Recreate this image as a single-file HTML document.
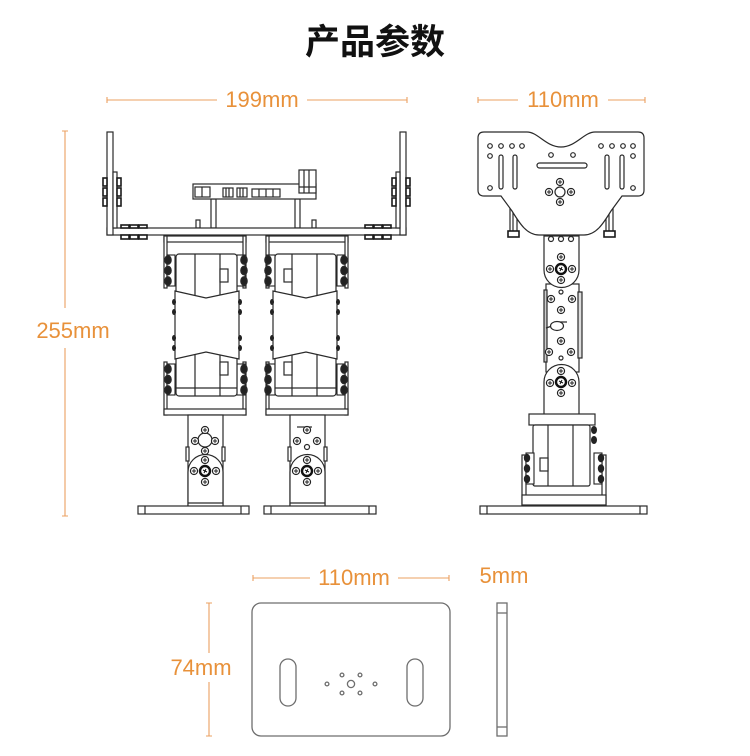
<!DOCTYPE html>
<html><head><meta charset="utf-8">
<style>
html,body{margin:0;padding:0;background:#fff;}
svg{display:block;}
.t{font-family:"Liberation Sans","Noto Sans CJK SC",sans-serif;fill:#E8913A;font-size:22px;text-anchor:middle;}
</style></head>
<body>
<svg width="750" height="756" viewBox="0 0 750 756" xmlns="http://www.w3.org/2000/svg">
<defs>
<g id="sc"><circle r="3.6" fill="#fff" stroke="#222" stroke-width="1.1"/><path d="M-2.2,0H2.2M0,-2.2V2.2" stroke="#222" stroke-width="1"/></g>
<g id="hn"><circle r="5" fill="#fff" stroke="#111" stroke-width="2.4"/><path d="M-2,-1L2,1M-1,2L1,-2" stroke="#111" stroke-width="1"/></g>
<g id="stk"><rect x="-4" y="0" width="8" height="31" fill="#fff" stroke="#222" stroke-width="1.1"/><ellipse cx="-3" cy="5" rx="3.2" ry="4.3" fill="#222"/><ellipse cx="-3" cy="15.5" rx="3.2" ry="4.3" fill="#222"/><ellipse cx="-3" cy="26" rx="3.2" ry="4.3" fill="#222"/></g>
</defs>

<!-- Title -->
<text x="375" y="54" font-family="'Noto Sans CJK SC','WenQuanYi Zen Hei',sans-serif" font-size="35" font-weight="bold" fill="#111" text-anchor="middle">产品参数</text>

<!-- Dimension lines -->
<g stroke="#EBA060" stroke-width="1.1" fill="none">
<path d="M107,100H217M307,100H407M107,97V103M407,97V103"/>
<path d="M478,100H518M608,100H645M478,97V103M645,97V103"/>
<path d="M65,131V308M65,348V516M62,131H68M62,516H68"/>
<path d="M253,578H310M398,578H449M253,575V581M449,575V581"/>
<path d="M209,603V653M209,682V736M206,603H212M206,736H212"/>
<path d="M343,667H359M343,664V670M359,664V670"/>
</g>
<text class="t" x="262" y="107">199mm</text>
<text class="t" x="563" y="107">110mm</text>
<text class="t" x="73" y="338">255mm</text>
<text class="t" x="354" y="585">110mm</text>
<text class="t" x="504" y="583">5mm</text>
<text class="t" x="201" y="675">74mm</text>
<text class="t" x="353" y="650">10mm</text>
<text class="t" x="352" y="727">70mm</text>

<!-- ================= FRONT VIEW ================= -->
<g stroke="#2a2a2a" stroke-width="1.2" fill="#fff">
<rect x="211" y="199" width="5" height="29"/>
<rect x="295" y="199" width="5" height="29"/>
<rect x="196" y="220" width="4" height="8"/>
<rect x="312" y="220" width="4" height="8"/>
<rect x="193" y="184" width="123" height="15"/>
<rect x="195" y="187" width="15" height="10"/><line x1="202" y1="187" x2="202" y2="197"/>
<rect x="223" y="188" width="10" height="9"/><line x1="226" y1="188" x2="226" y2="197"/><line x1="229" y1="188" x2="229" y2="197"/>
<rect x="237" y="188" width="10" height="9"/><line x1="240" y1="188" x2="240" y2="197"/><line x1="243" y1="188" x2="243" y2="197"/>
<rect x="252" y="189" width="28" height="8"/><line x1="259" y1="189" x2="259" y2="197"/><line x1="266" y1="189" x2="266" y2="197"/><line x1="273" y1="189" x2="273" y2="197"/>
<rect x="299" y="170" width="17" height="23"/><line x1="304" y1="170" x2="304" y2="193"/><line x1="309" y1="170" x2="309" y2="193"/><line x1="299" y1="187" x2="316" y2="187"/>
<rect x="107" y="228" width="299" height="7"/>
<rect x="107" y="132" width="6" height="103"/>
<rect x="400" y="132" width="6" height="103"/>
<rect x="113" y="172" width="4" height="56"/>
<rect x="396" y="172" width="4" height="56"/>
</g>
<g fill="#fff" stroke="#1a1a1a" stroke-width="1.6">
<rect x="103" y="178" width="4" height="8"/><rect x="103" y="188" width="4" height="8"/><rect x="103" y="198" width="4" height="8"/>
<rect x="117" y="178" width="4" height="8"/><rect x="117" y="188" width="4" height="8"/><rect x="117" y="198" width="4" height="8"/>
<rect x="406" y="178" width="4" height="8"/><rect x="406" y="188" width="4" height="8"/><rect x="406" y="198" width="4" height="8"/>
<rect x="392" y="178" width="4" height="8"/><rect x="392" y="188" width="4" height="8"/><rect x="392" y="198" width="4" height="8"/>
<rect x="121" y="225" width="8" height="3"/><rect x="130" y="225" width="8" height="3"/><rect x="139" y="225" width="8" height="3"/>
<rect x="121" y="235" width="8" height="4"/><rect x="130" y="235" width="8" height="4"/><rect x="139" y="235" width="8" height="4"/>
<rect x="365" y="225" width="8" height="3"/><rect x="374" y="225" width="8" height="3"/><rect x="383" y="225" width="8" height="3"/>
<rect x="365" y="235" width="8" height="4"/><rect x="374" y="235" width="8" height="4"/><rect x="383" y="235" width="8" height="4"/>
</g>

<!-- Left leg (upper) -->
<g stroke="#2a2a2a" stroke-width="1.2" fill="#fff">
<rect x="164" y="236" width="82" height="6"/>
<rect x="164" y="236" width="3" height="52"/>
<rect x="243" y="236" width="3" height="52"/>
<rect x="164" y="362" width="3" height="53"/>
<rect x="243" y="362" width="3" height="53"/>
<rect x="164" y="409" width="82" height="6"/>
<use href="#stk" x="171" y="255"/>
<use href="#stk" x="241" y="255" transform="translate(482,0) scale(-1,1)"/>
<use href="#stk" x="171" y="364"/>
<use href="#stk" x="241" y="364" transform="translate(482,0) scale(-1,1)"/>
<rect x="176" y="254" width="61" height="142" rx="3"/>
<line x1="195" y1="254" x2="195" y2="396"/>
<line x1="220" y1="254" x2="220" y2="396"/>
<rect x="220" y="269" width="8" height="13"/>
<rect x="220" y="362" width="8" height="13"/>
<line x1="176" y1="388" x2="237" y2="388"/>
<path d="M175,291 L206,298 L239,291 L239,359 L206,352 L175,359 Z"/>
<g fill="#222" stroke="none">
<ellipse cx="174" cy="302" rx="2" ry="3"/><ellipse cx="174" cy="312" rx="2" ry="3"/><ellipse cx="174" cy="338" rx="2" ry="3"/><ellipse cx="174" cy="348" rx="2" ry="3"/>
<ellipse cx="240" cy="302" rx="2" ry="3"/><ellipse cx="240" cy="312" rx="2" ry="3"/><ellipse cx="240" cy="338" rx="2" ry="3"/><ellipse cx="240" cy="348" rx="2" ry="3"/>
</g>
</g>
<!-- Right leg (mirror) -->
<g transform="translate(512,0) scale(-1,1)" stroke="#2a2a2a" stroke-width="1.2" fill="#fff">
<rect x="164" y="236" width="82" height="6"/>
<rect x="164" y="236" width="3" height="52"/>
<rect x="243" y="236" width="3" height="52"/>
<rect x="164" y="362" width="3" height="53"/>
<rect x="243" y="362" width="3" height="53"/>
<rect x="164" y="409" width="82" height="6"/>
<use href="#stk" x="171" y="255"/>
<use href="#stk" x="241" y="255" transform="translate(482,0) scale(-1,1)"/>
<use href="#stk" x="171" y="364"/>
<use href="#stk" x="241" y="364" transform="translate(482,0) scale(-1,1)"/>
<rect x="176" y="254" width="61" height="142" rx="3"/>
<line x1="195" y1="254" x2="195" y2="396"/>
<line x1="220" y1="254" x2="220" y2="396"/>
<rect x="220" y="269" width="8" height="13"/>
<rect x="220" y="362" width="8" height="13"/>
<line x1="176" y1="388" x2="237" y2="388"/>
<path d="M175,291 L206,298 L239,291 L239,359 L206,352 L175,359 Z"/>
<g fill="#222" stroke="none">
<ellipse cx="174" cy="302" rx="2" ry="3"/><ellipse cx="174" cy="312" rx="2" ry="3"/><ellipse cx="174" cy="338" rx="2" ry="3"/><ellipse cx="174" cy="348" rx="2" ry="3"/>
<ellipse cx="240" cy="302" rx="2" ry="3"/><ellipse cx="240" cy="312" rx="2" ry="3"/><ellipse cx="240" cy="338" rx="2" ry="3"/><ellipse cx="240" cy="348" rx="2" ry="3"/>
</g>
</g>

<!-- Lower legs -->
<g stroke="#2a2a2a" stroke-width="1.2" fill="#fff">
<rect x="188" y="415" width="35" height="91"/>
<rect x="186" y="447" width="3" height="14"/><rect x="222" y="447" width="3" height="14"/>
<path d="M188,506 L188,472 A17.5,17.5 0 0 1 223,472 L223,506"/>
<circle cx="205" cy="440" r="7"/>
<line x1="188" y1="503" x2="223" y2="503"/>
<rect x="290" y="415" width="35" height="91"/>
<rect x="288" y="447" width="3" height="14"/><rect x="324" y="447" width="3" height="14"/>
<path d="M290,506 L290,472 A17.5,17.5 0 0 1 325,472 L325,506"/>
<circle cx="307" cy="447" r="2.5"/>
<line x1="290" y1="503" x2="325" y2="503"/>
<line x1="297" y1="427" x2="312" y2="427"/>
<rect x="138" y="506" width="111" height="8"/><line x1="145" y1="506" x2="145" y2="514"/><line x1="241" y1="506" x2="241" y2="514"/>
<rect x="264" y="506" width="112" height="8"/><line x1="271" y1="506" x2="271" y2="514"/><line x1="369" y1="506" x2="369" y2="514"/>
</g>
<use href="#sc" x="205" y="430"/><use href="#sc" x="195" y="441"/><use href="#sc" x="215" y="441"/><use href="#sc" x="205" y="451"/>
<use href="#hn" x="205" y="471"/><use href="#sc" x="205" y="460"/><use href="#sc" x="194" y="471"/><use href="#sc" x="216" y="471"/><use href="#sc" x="205" y="482"/>
<use href="#sc" x="307" y="430"/><use href="#sc" x="297" y="441"/><use href="#sc" x="317" y="441"/>
<use href="#hn" x="307" y="471"/><use href="#sc" x="307" y="460"/><use href="#sc" x="296" y="471"/><use href="#sc" x="318" y="471"/><use href="#sc" x="307" y="482"/>

<!-- ================= SIDE VIEW ================= -->
<g stroke="#2a2a2a" stroke-width="1.2" fill="#fff">
<rect x="510" y="205" width="7" height="27"/><line x1="513" y1="205" x2="513" y2="232"/>
<rect x="606" y="205" width="7" height="27"/><line x1="609" y1="205" x2="609" y2="232"/>
<path d="M484,132 L527,132 C538,132 546,147 561,147 C576,147 584,132 595,132 L638,132 Q644,132 644,138 L644,190 Q644,196 638,196 L622,196 L611,211 C603,224 596,235 584,235 L539,235 C527,235 520,224 512,211 L501,196 L484,196 Q478,196 478,190 L478,138 Q478,132 484,132 Z"/>
<circle cx="490" cy="146" r="2.3"/><circle cx="501" cy="146" r="2.3"/><circle cx="512" cy="146" r="2.3"/><circle cx="522" cy="146" r="2.3"/>
<circle cx="601" cy="146" r="2.3"/><circle cx="612" cy="146" r="2.3"/><circle cx="623" cy="146" r="2.3"/><circle cx="633" cy="146" r="2.3"/>
<circle cx="490" cy="156" r="2.3"/><circle cx="633" cy="156" r="2.3"/>
<circle cx="490" cy="188" r="2.3"/><circle cx="633" cy="188" r="2.3"/>
<rect x="499" y="155" width="4" height="34" rx="2"/><rect x="513" y="155" width="4" height="34" rx="2"/>
<rect x="605" y="155" width="4" height="34" rx="2"/><rect x="620" y="155" width="4" height="34" rx="2"/>
<circle cx="551" cy="155" r="2.3"/><circle cx="573" cy="155" r="2.3"/>
<rect x="537" y="163" width="50" height="5" rx="2.5"/>
<circle cx="560" cy="192" r="5"/>
</g>
<use href="#sc" x="560" y="182"/><use href="#sc" x="549" y="192"/><use href="#sc" x="571" y="192"/><use href="#sc" x="560" y="202"/>
<g fill="#fff" stroke="#1a1a1a" stroke-width="1.6">
<rect x="508" y="231" width="11" height="6"/><rect x="604" y="231" width="11" height="6"/>
</g>

<g stroke="#2a2a2a" stroke-width="1.2" fill="#fff">
<rect x="546" y="284" width="33" height="88"/>
<rect x="578" y="292" width="4" height="66" fill="#ddd"/>
<rect x="544" y="290" width="3" height="72" fill="#ccc"/>
<path d="M546,328 L552,326 M558,322 L567,322"/>
<path d="M544,236 L544,270 A17.5,17.5 0 0 0 579,270 L579,236 Z"/>
<path d="M544,415 L544,382 A17.5,17.5 0 0 1 579,382 L579,415 Z"/>
<ellipse cx="557" cy="326" rx="6.5" ry="4.5"/>
<circle cx="561" cy="292" r="2"/><circle cx="561" cy="358" r="2"/>
<circle cx="551" cy="239" r="2.5"/><circle cx="561" cy="239" r="2.5"/><circle cx="571" cy="239" r="2.5"/>
<rect x="522" y="455" width="4" height="51"/><rect x="602" y="455" width="4" height="51"/>
<rect x="522" y="495" width="84" height="10"/>
<rect x="529" y="414" width="66" height="11"/>
<rect x="533" y="425" width="57" height="61" rx="2"/>
<line x1="548" y1="425" x2="548" y2="486"/><line x1="573" y1="425" x2="573" y2="486"/>
<rect x="540" y="458" width="8" height="13"/>
<rect x="480" y="506" width="167" height="8"/><line x1="487" y1="506" x2="487" y2="514"/><line x1="640" y1="506" x2="640" y2="514"/>
</g>
<use href="#stk" x="530" y="455" transform="translate(0,-2)"/>
<use href="#stk" x="598" y="455" transform="translate(1196,-2) scale(-1,1)"/>
<g fill="#222"><ellipse cx="594" cy="430" rx="3" ry="4"/><ellipse cx="594" cy="440" rx="3" ry="4"/></g>
<use href="#hn" x="561" y="269"/><use href="#sc" x="561" y="257"/><use href="#sc" x="550" y="269"/><use href="#sc" x="572" y="269"/><use href="#sc" x="561" y="280"/>
<use href="#sc" x="551" y="299"/><use href="#sc" x="572" y="299"/><use href="#sc" x="561" y="310"/>
<use href="#sc" x="561" y="341"/><use href="#sc" x="549" y="352"/><use href="#sc" x="571" y="352"/>
<use href="#hn" x="561" y="382"/><use href="#sc" x="561" y="371"/><use href="#sc" x="550" y="383"/><use href="#sc" x="572" y="383"/><use href="#sc" x="561" y="393"/>

<!-- ================= BASE PLATE ================= -->
<g stroke="#6e6e6e" stroke-width="1.3" fill="#fff">
<rect x="252" y="603" width="198" height="133" rx="9"/>
<rect x="280" y="659" width="16" height="47" rx="8"/>
<rect x="407" y="659" width="16" height="47" rx="8"/>
<circle cx="351" cy="684" r="3.6"/>
<circle cx="342" cy="675" r="1.9"/><circle cx="360" cy="675" r="1.9"/>
<circle cx="327" cy="684" r="1.9"/><circle cx="375" cy="684" r="1.9"/>
<circle cx="342" cy="693" r="1.9"/><circle cx="360" cy="693" r="1.9"/>
<rect x="497" y="603" width="10" height="133"/>
<line x1="497" y1="613" x2="507" y2="613"/><line x1="497" y1="727" x2="507" y2="727"/>
</g>
</svg>
</body></html>
